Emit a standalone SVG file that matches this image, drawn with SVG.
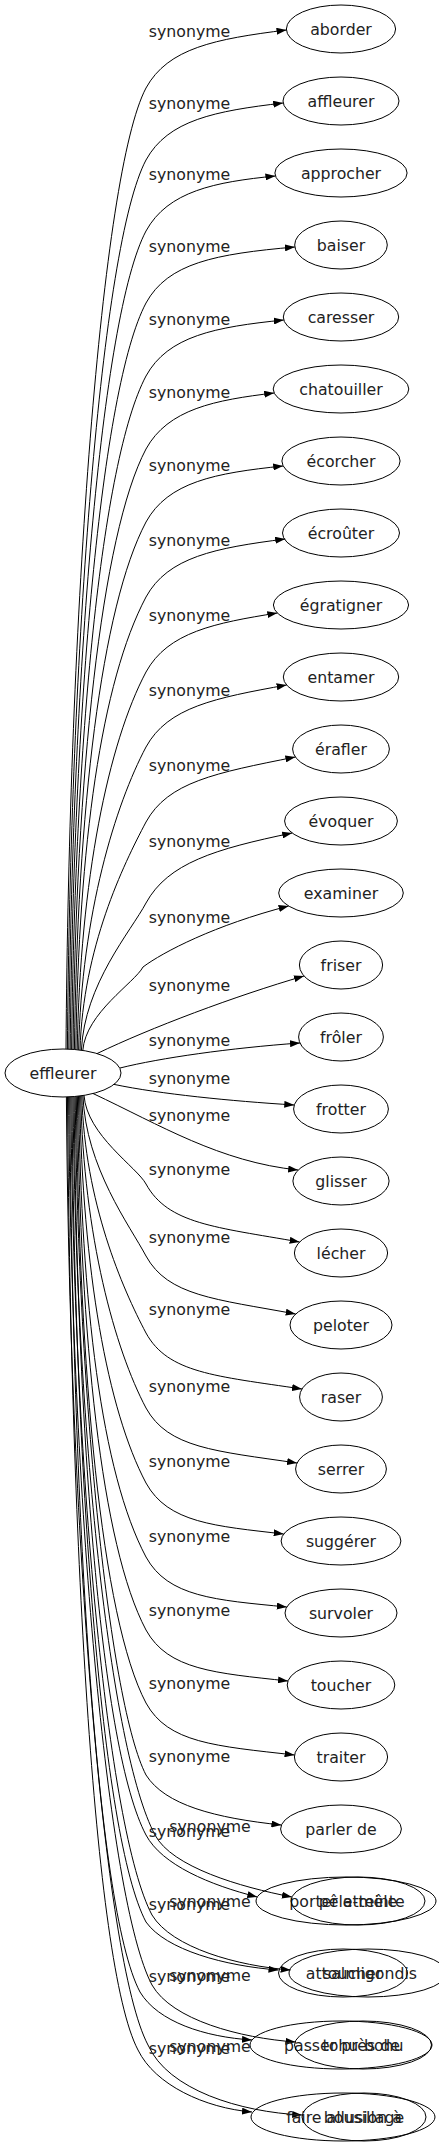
<svg xmlns="http://www.w3.org/2000/svg" width="439" height="2147" viewBox="0 0 439 2147">
<defs>
<marker id="ah" markerWidth="10" markerHeight="7" refX="10" refY="3.5" orient="auto" markerUnits="userSpaceOnUse"><path d="M0,0 L10,3.5 L0,7 z" fill="#000"/></marker>
<style>
text{font-family:"DejaVu Sans","Liberation Sans",sans-serif;font-size:15.75px;fill:#222}
.n ellipse{fill:none;stroke:#000;stroke-width:1}
.n text{text-anchor:middle}
#labels text{text-anchor:middle}
#edges path{fill:none;stroke:#000;stroke-width:1;marker-end:url(#ah)}
</style>
</defs>
<rect width="439" height="2147" fill="#fff"/>
<g id="edges">
<path d="M66,1049 C69,616.5 101,173 146,88 C168,48 215,39 286.5,30"/>
<path d="M67.4,1049.1 C70.4,649 101,245 146,160 C168,120 215,111 283.2,103"/>
<path d="M68.8,1049.1 C71.8,681 101,316 146,231 C168,191 215,182 275.4,176"/>
<path d="M70.2,1049.2 C73.2,713.4 101,388 146,303 C168,263 215,254 294.9,247"/>
<path d="M71.6,1049.3 C74.6,746.3 101,461 146,376 C168,336 215,327 283.8,320"/>
<path d="M73,1049.4 C76,779.2 101,534 146,449 C168,409 215,400 274.2,393"/>
<path d="M74.4,1049.5 C77.4,812.1 101,607 146,522 C168,482 215,473 283.2,466"/>
<path d="M75.8,1049.6 C78.8,845.9 101,682 146,597 C168,557 215,548 285.2,539"/>
<path d="M77.2,1049.7 C80.2,879.7 108.2,743.3 146,672 C168,632 215,623 277.3,613"/>
<path d="M78.6,1049.9 C81.6,913.6 115.7,804.2 146,747 C168,707 215,698 286.6,685"/>
<path d="M80,1050.1 C83,947.5 123.2,865.1 146,822 C168,782 215,773 295.4,757"/>
<path d="M81.4,1050.2 C84.4,984 131.3,930.8 146,903 C168,863 215,849 292.2,833"/>
<path d="M82.8,1050.4 C85.8,1012.9 134.7,982.7 143,967 C163,952 215,925 288.6,906"/>
<path d="M97,1053.6 C150,1028 235,996 304,976"/>
<path d="M120,1068 C160,1058 230,1048 300,1043"/>
<path d="M114,1084.4 C160,1094 230,1101 294.3,1105"/>
<path d="M93,1093.5 C160,1125 220,1162 298.2,1170"/>
<path d="M84,1095.4 C87,1135.3 137.1,1167.3 146,1184 C168,1224 215,1227 299.6,1242"/>
<path d="M82.9,1095.5 C85.9,1167.7 129.9,1225.7 146,1256 C168,1296 215,1299 295.7,1314"/>
<path d="M81.8,1095.7 C84.8,1202.5 122.3,1288.2 146,1333 C168,1373 215,1376 302,1389"/>
<path d="M80.7,1095.9 C83.7,1236.3 114.8,1349 146,1408 C168,1448 215,1451 297.1,1463"/>
<path d="M79.6,1096 C82.6,1270.2 107.3,1409.9 146,1483 C168,1523 215,1526 283.7,1534"/>
<path d="M78.5,1096.1 C81.5,1303.5 101,1472 146,1557 C168,1597 215,1600 286.8,1607"/>
<path d="M77.4,1096.2 C80.4,1336.4 101,1545 146,1630 C168,1670 215,1673 288,1681"/>
<path d="M76.3,1096.4 C79.3,1369.4 101,1618 146,1703 C168,1743 215,1746 294.6,1755"/>
<path d="M75.2,1096.5 C78.2,1401.8 110,1705 146,1775 C165,1805 215,1818 281.4,1825"/>
<path d="M74.1,1096.6 C77.1,1433.4 101,1750 146,1835 C162,1865 210,1885 257.3,1897"/>
<path d="M73,1096.6 C76,1428.9 110,1750 155,1835 C172,1867 240,1887 291.9,1897"/>
<path d="M71.9,1096.7 C74.9,1468 101,1837 146,1922 C166,1950 225,1966 278.5,1970"/>
<path d="M70.8,1096.8 C73.8,1464.9 107,1830 152,1915 C172,1948 238,1966 290.6,1970"/>
<path d="M69.7,1096.8 C72.7,1499.6 95,1907 140,1992 C158,2022 205,2037 252,2040"/>
<path d="M68.6,1096.9 C71.6,1496.5 107,1900 152,1985 C172,2020 240,2038 295.5,2042"/>
<path d="M67.5,1096.9 C70.5,1525.8 93,1965 138,2050 C155,2085 205,2108 252,2112"/>
<path d="M66.4,1097 C69.4,1523.6 103,1960 148,2045 C168,2090 240,2112 302.2,2115"/>
</g>
<g id="labels">
<text x="189.5" y="37">synonyme</text>
<text x="189.5" y="109">synonyme</text>
<text x="189.5" y="180">synonyme</text>
<text x="189.5" y="252">synonyme</text>
<text x="189.5" y="325">synonyme</text>
<text x="189.5" y="398">synonyme</text>
<text x="189.5" y="471">synonyme</text>
<text x="189.5" y="546">synonyme</text>
<text x="189.5" y="621">synonyme</text>
<text x="189.5" y="696">synonyme</text>
<text x="189.5" y="771">synonyme</text>
<text x="189.5" y="847">synonyme</text>
<text x="189.5" y="923">synonyme</text>
<text x="189.5" y="991">synonyme</text>
<text x="189.5" y="1046">synonyme</text>
<text x="189.5" y="1084">synonyme</text>
<text x="189.5" y="1121">synonyme</text>
<text x="189.5" y="1175">synonyme</text>
<text x="189.5" y="1243">synonyme</text>
<text x="189.5" y="1315">synonyme</text>
<text x="189.5" y="1392">synonyme</text>
<text x="189.5" y="1467">synonyme</text>
<text x="189.5" y="1542">synonyme</text>
<text x="189.5" y="1616">synonyme</text>
<text x="189.5" y="1689">synonyme</text>
<text x="189.5" y="1762">synonyme</text>
<text x="189.5" y="1837">synonyme</text>
<text x="210" y="1832">synonyme</text>
<text x="189.5" y="1910">synonyme</text>
<text x="210" y="1907">synonyme</text>
<text x="189.5" y="1982">synonyme</text>
<text x="210" y="1981">synonyme</text>
<text x="189.5" y="2054">synonyme</text>
<text x="210" y="2052">synonyme</text>
</g>
<g id="node-effleurer" class="n"><ellipse cx="63" cy="1073" rx="58" ry="24"/><text x="63" y="1079">effleurer</text></g>
<g id="node-aborder" class="n"><ellipse cx="341" cy="29" rx="54.6" ry="24"/><text x="341" y="35">aborder</text></g>
<g id="node-affleurer" class="n"><ellipse cx="341" cy="101" rx="58" ry="24"/><text x="341" y="107">affleurer</text></g>
<g id="node-approcher" class="n"><ellipse cx="341" cy="173" rx="66.1" ry="24"/><text x="341" y="179">approcher</text></g>
<g id="node-baiser" class="n"><ellipse cx="341" cy="245" rx="46.3" ry="24"/><text x="341" y="251">baiser</text></g>
<g id="node-caresser" class="n"><ellipse cx="341" cy="317" rx="57.7" ry="24"/><text x="341" y="323">caresser</text></g>
<g id="node-chatouiller" class="n"><ellipse cx="341" cy="389" rx="67.8" ry="24"/><text x="341" y="395">chatouiller</text></g>
<g id="node-ecorcher" class="n"><ellipse cx="341" cy="461" rx="59.1" ry="24"/><text x="341" y="467">écorcher</text></g>
<g id="node-ecrouter" class="n"><ellipse cx="341" cy="533" rx="58.5" ry="24"/><text x="341" y="539">écroûter</text></g>
<g id="node-egratigner" class="n"><ellipse cx="341" cy="605" rx="67.6" ry="24"/><text x="341" y="611">égratigner</text></g>
<g id="node-entamer" class="n"><ellipse cx="341" cy="677" rx="57.7" ry="24"/><text x="341" y="683">entamer</text></g>
<g id="node-erafler" class="n"><ellipse cx="341" cy="749" rx="48.4" ry="24"/><text x="341" y="755">érafler</text></g>
<g id="node-evoquer" class="n"><ellipse cx="341" cy="821" rx="56.4" ry="24"/><text x="341" y="827">évoquer</text></g>
<g id="node-examiner" class="n"><ellipse cx="341" cy="893" rx="62.3" ry="24"/><text x="341" y="899">examiner</text></g>
<g id="node-friser" class="n"><ellipse cx="341" cy="965" rx="41.6" ry="24"/><text x="341" y="971">friser</text></g>
<g id="node-froler" class="n"><ellipse cx="341" cy="1037" rx="42.4" ry="24"/><text x="341" y="1043">frôler</text></g>
<g id="node-frotter" class="n"><ellipse cx="341" cy="1109" rx="47.4" ry="24"/><text x="341" y="1115">frotter</text></g>
<g id="node-glisser" class="n"><ellipse cx="341" cy="1181" rx="48.1" ry="24"/><text x="341" y="1187">glisser</text></g>
<g id="node-lecher" class="n"><ellipse cx="341" cy="1253" rx="46.6" ry="24"/><text x="341" y="1259">lécher</text></g>
<g id="node-peloter" class="n"><ellipse cx="341" cy="1325" rx="51" ry="24"/><text x="341" y="1331">peloter</text></g>
<g id="node-raser" class="n"><ellipse cx="341" cy="1397" rx="41.4" ry="24"/><text x="341" y="1403">raser</text></g>
<g id="node-serrer" class="n"><ellipse cx="341" cy="1469" rx="45.4" ry="24"/><text x="341" y="1475">serrer</text></g>
<g id="node-suggerer" class="n"><ellipse cx="341" cy="1541" rx="59.9" ry="24"/><text x="341" y="1547">suggérer</text></g>
<g id="node-survoler" class="n"><ellipse cx="341" cy="1613" rx="56" ry="24"/><text x="341" y="1619">survoler</text></g>
<g id="node-toucher" class="n"><ellipse cx="341" cy="1685" rx="53.8" ry="24"/><text x="341" y="1691">toucher</text></g>
<g id="node-traiter" class="n"><ellipse cx="341" cy="1757" rx="46.6" ry="24"/><text x="341" y="1763">traiter</text></g>
<g id="node-parler-de" class="n"><ellipse cx="341" cy="1829" rx="60.4" ry="24"/><text x="341" y="1835">parler de</text></g>
<g id="node-porter-atteinte" class="n"><ellipse cx="346" cy="1901" rx="90" ry="24"/><text x="347" y="1907">porter atteinte</text></g>
<g id="node-pele-mele" class="n"><ellipse cx="358" cy="1901" rx="67" ry="24"/><text x="358" y="1907">pêle-mêle</text></g>
<g id="node-attoucher" class="n"><ellipse cx="343" cy="1973" rx="64.5" ry="24"/><text x="344" y="1979">attoucher</text></g>
<g id="node-salmigondis" class="n"><ellipse cx="368" cy="1973" rx="79" ry="24"/><text x="370" y="1979">salmigondis</text></g>
<g id="node-passer-pres-de" class="n"><ellipse cx="341" cy="2045" rx="91" ry="24"/><text x="342" y="2051">passer près de</text></g>
<g id="node-tohu-bohu" class="n"><ellipse cx="363" cy="2045" rx="68.5" ry="24"/><text x="363" y="2051">tohu-bohu</text></g>
<g id="node-faire-allusion-a" class="n"><ellipse cx="343" cy="2117" rx="92" ry="24"/><text x="344" y="2123">faire allusion à</text></g>
<g id="node-bousillage" class="n"><ellipse cx="364" cy="2117" rx="62" ry="24"/><text x="364" y="2123">bousillage</text></g>
</svg>
